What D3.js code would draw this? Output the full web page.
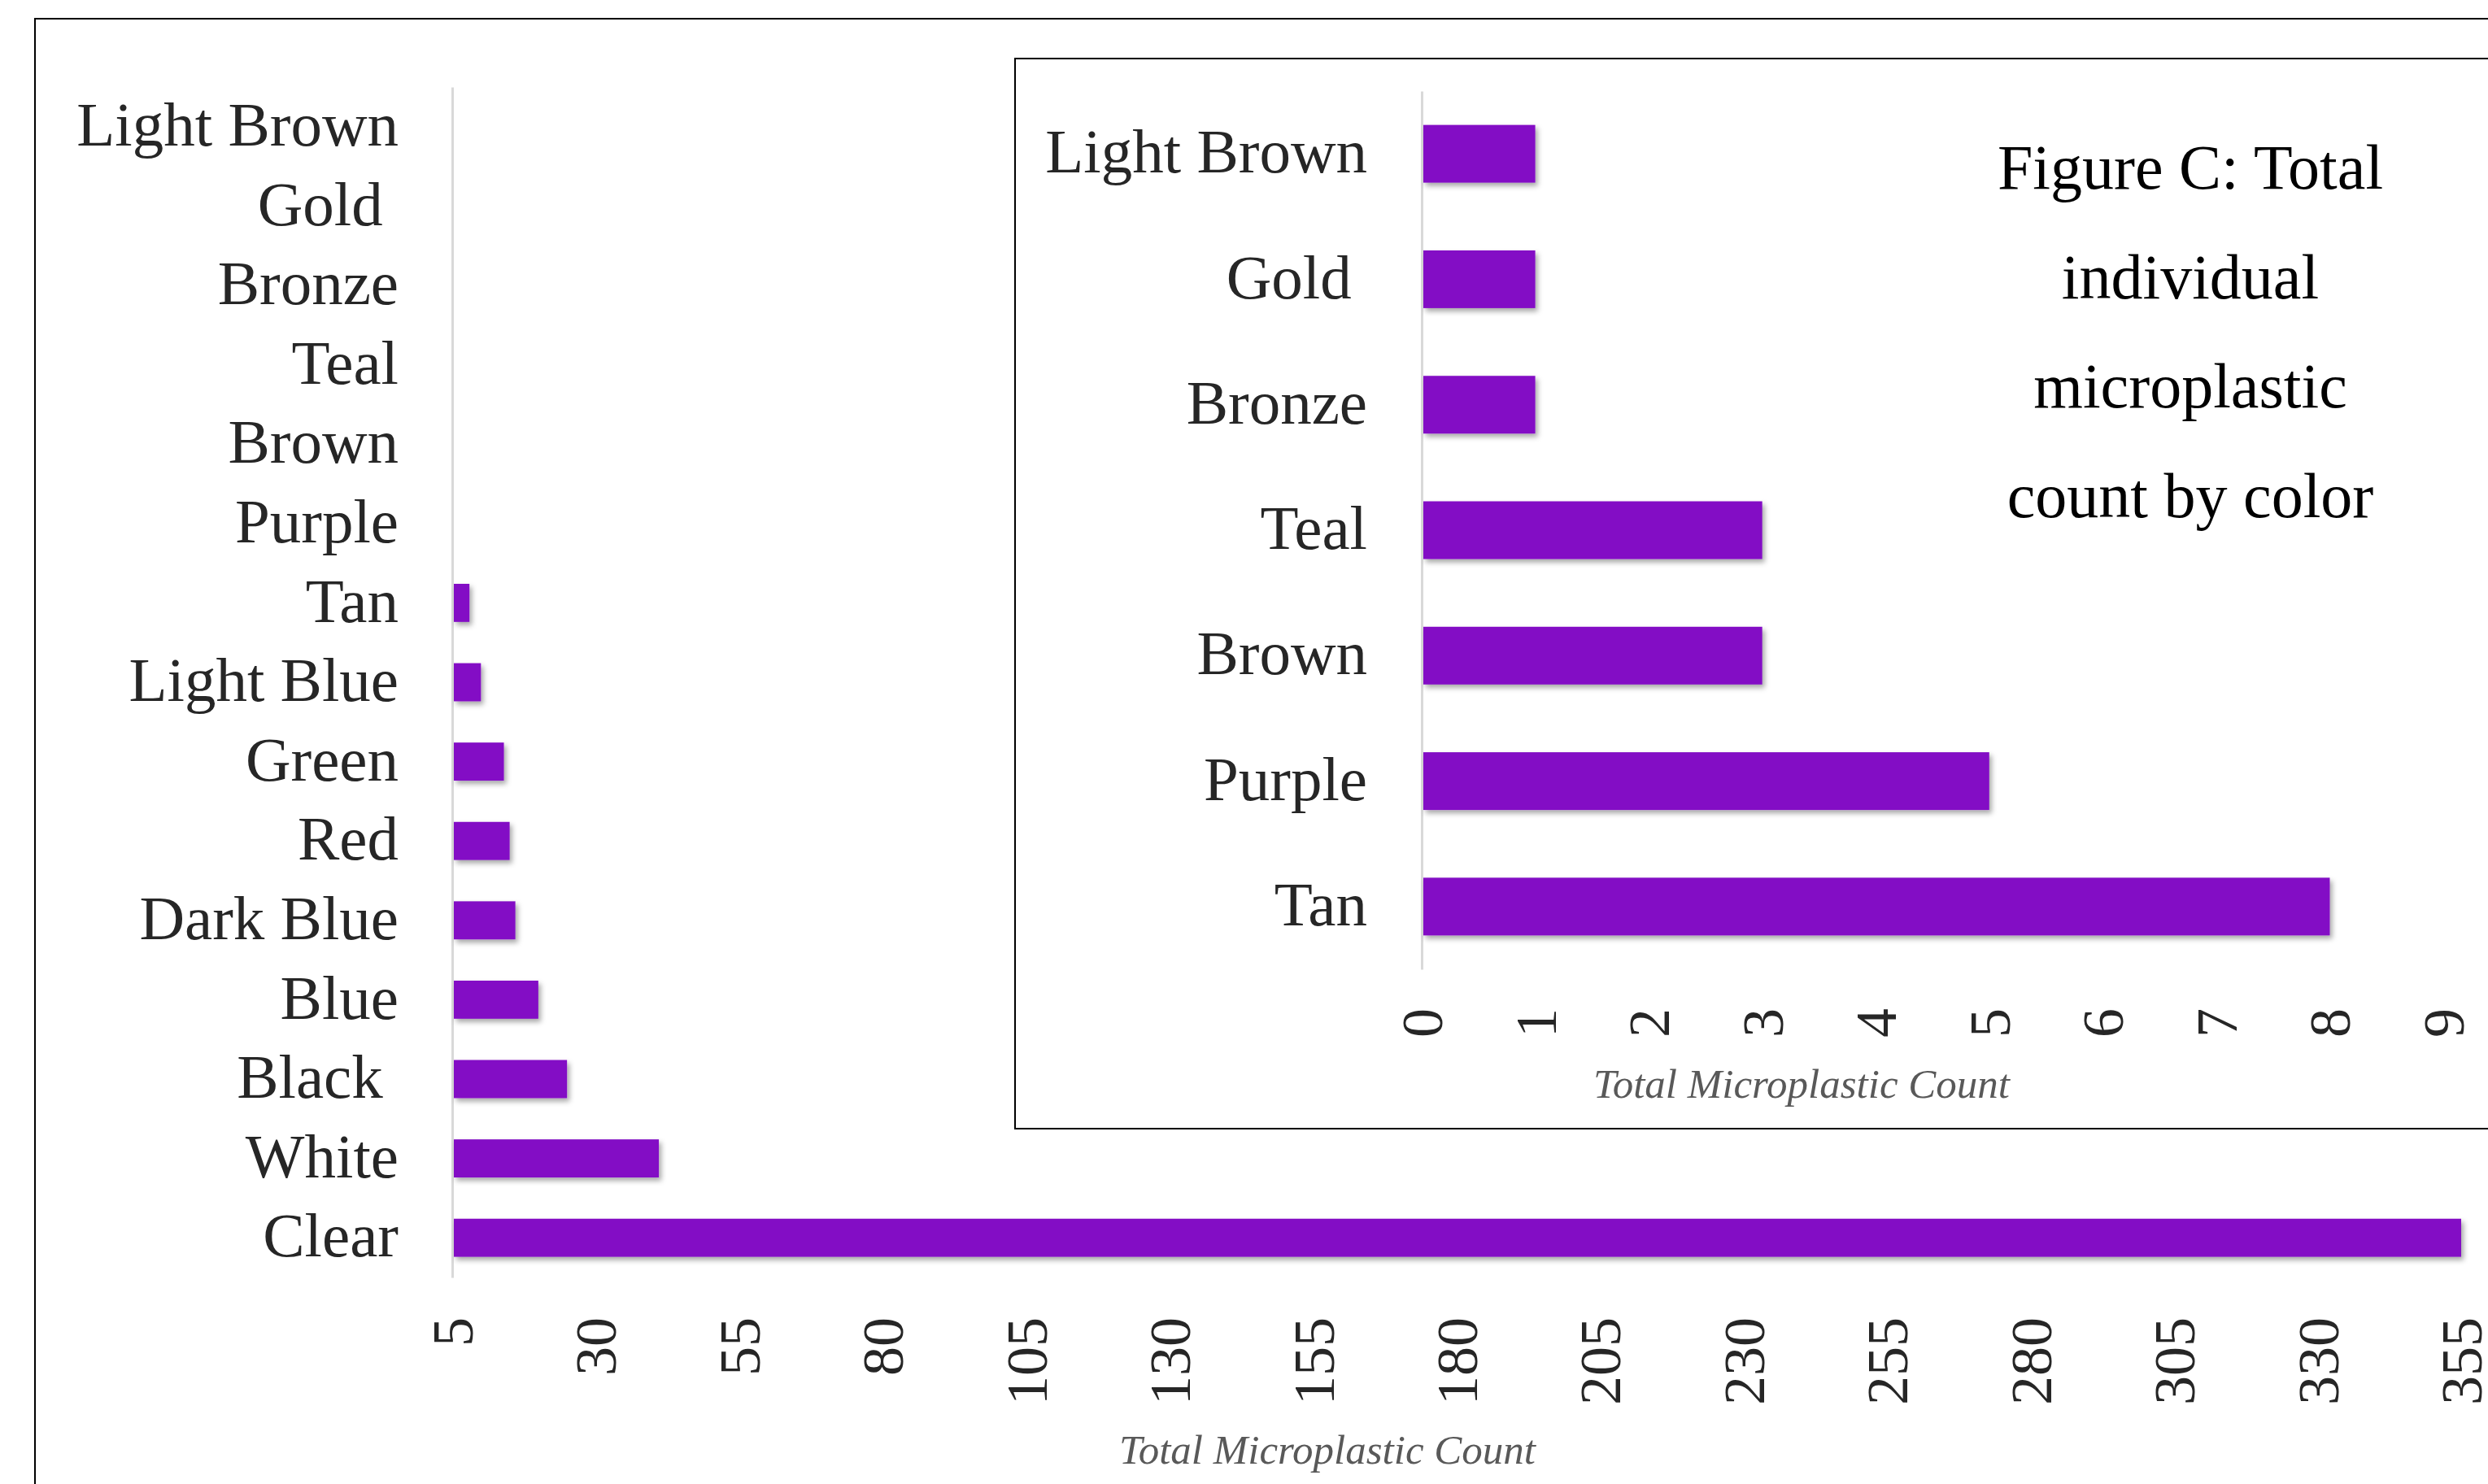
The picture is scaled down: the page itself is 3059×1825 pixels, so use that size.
<!DOCTYPE html>
<html>
<head>
<meta charset="utf-8">
<script src="https://cdn.jsdelivr.net/npm/d3@7"></script>
<style>
	body { margin: 0; background: #fff; }
	text { font-family: "Liberation Serif", "Times New Roman", serif; white-space: pre; }
</style>
</head>
<body>
<script>

// main chart: all colors
const mainCategories = ['Light Brown', 'Gold ', 'Bronze', 'Teal', 'Brown', 'Purple', 'Tan', 'Light Blue', 'Green', 'Red', 'Dark Blue', 'Blue', 'Black ', 'White', 'Clear']
const mainValues = [1, 1, 1, 3, 3, 5, 8, 10, 14, 15, 16, 20, 25, 41, 355]
const mainTicks = [5, 30, 55, 80, 105, 130, 155, 180, 205, 230, 255, 280, 305, 330, 355]

// inset: the small ones
const insetCategories = ['Light Brown', 'Gold ', 'Bronze', 'Teal', 'Brown', 'Purple', 'Tan']
const insetValues = [1, 1, 1, 3, 3, 5, 8]
const insetTicks = [0, 1, 2, 3, 4, 5, 6, 7, 8, 9]

const titleLines = ['Figure C: Total', 'individual', 'microplastic', 'count by color']
const axisTitle = 'Total Microplastic Count'

const W = 3059, H = 1825
const barColor = '#830cc5'
const labelColor = '#262626'

const svg = d3.select('body').append('svg')
	.attr('width', W)
	.attr('height', H)

//soft shadow under the bars, like excel does
svg.append('defs').append('filter')
	.attr('id', 'shadow')
	.attr('x', '-5%').attr('y', '-20%').attr('width', '110%').attr('height', '160%')
	.append('feDropShadow')
	.attr('dx', 3).attr('dy', 4)
	.attr('stdDeviation', 3)
	.attr('flood-color', '#000')
	.attr('flood-opacity', 0.35)

//outer frame (goes past the right and bottom edge)
svg.append('rect')
	.attr('x', 43).attr('y', 23)
	.attr('width', W).attr('height', H)
	.attr('fill', 'none')
	.attr('stroke', '#000')
	.attr('stroke-width', 2)

function barChart(g, cats, vals, ticks, opt) {
	let x = d3.scaleLinear().domain([ticks[0], ticks[ticks.length-1]]).range([opt.x0, opt.x1])
	let y = d3.scaleBand().domain(cats).range([opt.y0, opt.y1])
		.paddingInner(opt.pad).paddingOuter(opt.pad/2)

	//category axis
	let ay = g.append('g')
		.attr('transform', 'translate('+opt.x0+',0)')
		.call(d3.axisLeft(y).tickSize(0).tickSizeOuter(0).tickPadding(opt.labelPad))
	ay.select('.domain').attr('stroke', '#d9d9d9').attr('stroke-width', 3)
	ay.selectAll('text')
		.attr('font-size', 77)
		.attr('fill', labelColor)
		.attr('dy', '0.3em')
		.style('font-family', '"Liberation Serif", serif')

	//bars
	g.append('g').attr('filter', 'url(#shadow)')
		.selectAll('rect')
		.data(vals)
		.join('rect')
		.attr('x', x(ticks[0]) + 2)
		.attr('y', (d, i) => y(cats[i]))
		.attr('height', y.bandwidth())
		.attr('width', d => Math.max(0, x(d) - x(ticks[0]) - 2))
		.attr('fill', barColor)

	//value axis, labels turned on their side
	let ax = g.append('g')
		.attr('transform', 'translate(0,'+opt.tickY+')')
		.call(d3.axisBottom(x).tickValues(ticks).tickSize(0).tickPadding(0).tickFormat(d3.format('d')))
	ax.select('.domain').remove()
	ax.selectAll('text')
		.attr('font-size', 72)
		.attr('fill', labelColor)
		.attr('transform', 'rotate(-90)')
		.attr('text-anchor', 'end')
		.attr('x', 0)
		.attr('y', 0)
		.attr('dy', '0.34em')
		.style('font-family', '"Liberation Serif", serif')

	g.append('text')
		.attr('x', opt.titleX)
		.attr('y', opt.titleY)
		.attr('text-anchor', 'middle')
		.attr('font-size', 51)
		.attr('font-style', 'italic')
		.attr('fill', '#595959')
		.text(axisTitle)
}

//big chart
barChart(svg.append('g'), mainCategories, mainValues, mainTicks, {
	x0: 556, x1: 3026, y0: 107, y1: 1571, pad: 0.52, labelPad: 66,
	tickY: 1620, titleX: 1632, titleY: 1800
})

//inset box, white so it hides what is behind
let inset = svg.append('g')
inset.append('rect')
	.attr('x', 1248).attr('y', 72)
	.attr('width', W).attr('height', 1316)
	.attr('fill', '#fff')
	.attr('stroke', '#000')
	.attr('stroke-width', 2)

barChart(inset, insetCategories, insetValues, insetTicks, {
	x0: 1748, x1: 3004, y0: 112, y1: 1192, pad: 0.54, labelPad: 67,
	tickY: 1240, titleX: 2215, titleY: 1350
})

//figure caption inside the inset
inset.append('g').selectAll('text')
	.data(titleLines)
	.join('text')
	.attr('x', 2693)
	.attr('y', (d, i) => 232 + i*134.6)
	.attr('text-anchor', 'middle')
	.attr('font-size', 78)
	.attr('fill', '#000')
	.text(d => d)

</script>
</body>
</html>
